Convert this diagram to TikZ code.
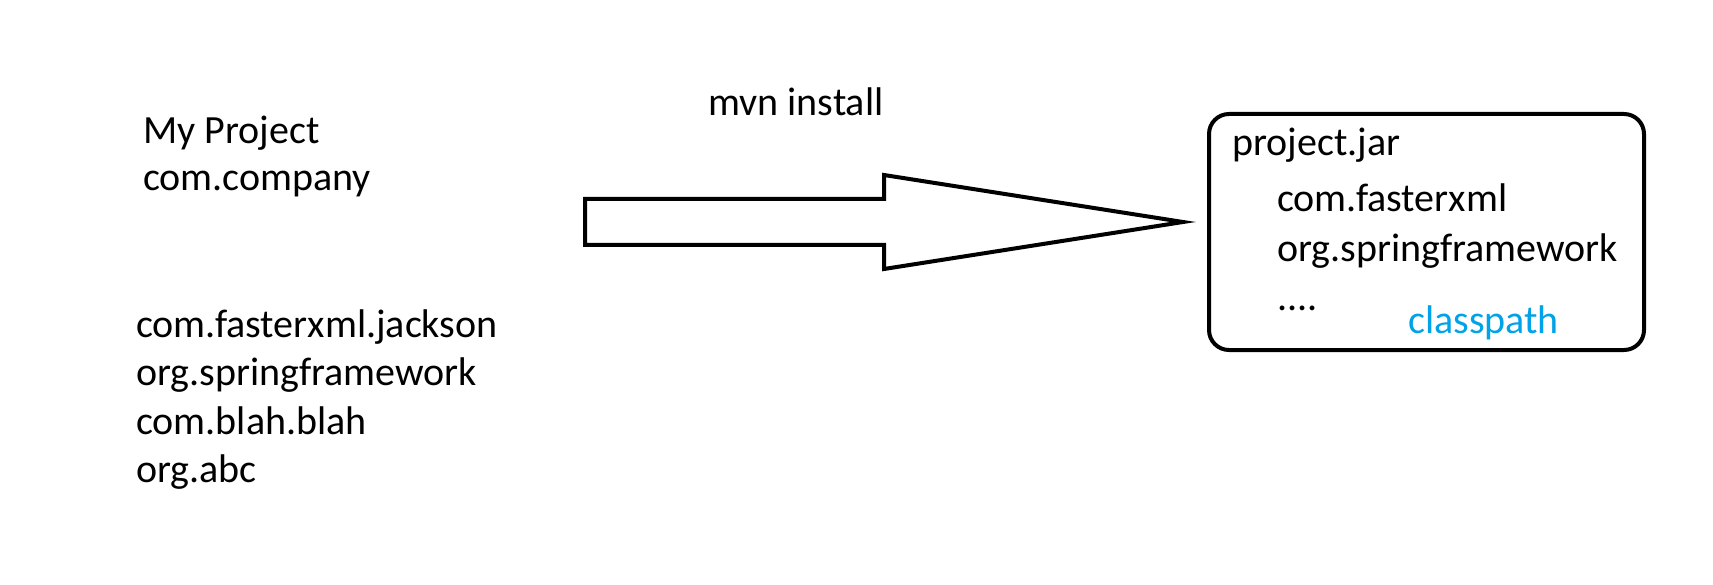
\documentclass[tikz,border=0pt]{standalone}
\usepackage{fontspec}
\setmainfont{Carlito}
\definecolor{cpblue}{HTML}{00A2E8}
\begin{document}
\begin{tikzpicture}[x=1pt,y=-1pt,
  lbl/.style={anchor=base west,inner sep=0pt,font=\fontsize{40}{48}\selectfont},
  outline/.style={line width=4pt,line join=miter}]
\useasboundingbox (0,0) rectangle (1713,585);
% left texts
\node[lbl] (myproj) at (143,144) {My Project};
\node[lbl] (comp) at (143,191) {com.company};
\node[lbl] (dep1) at (136,337) {com.fasterxml.jackson};
\node[lbl] (dep2) at (136,385) {org.springframework};
\node[lbl] (dep3) at (136,434) {com.blah.blah};
\node[lbl] (dep4) at (136,482) {org.abc};
% mvn install
\node[lbl] (mvn) at (708,116) {mvn install};
% big arrow
\draw[outline] (585,199) -- (884,199) -- (884,175) -- (1183,222) -- (884,269) -- (884,245) -- (585,245) -- cycle;
% jar box
\draw[line width=4pt,rounded corners=20pt] (1209,114) rectangle (1644,350);
\node[lbl] (jar) at (1232,156) {project.jar};
\node[lbl] (j1) at (1277,212) {com.fasterxml};
\node[lbl] (j2) at (1277,262) {org.springframework};
\node[lbl] (j3) at (1277,311) {....};
\node[lbl,text=cpblue] (cp) at (1408,333) {classpath};
\end{tikzpicture}
\end{document}
